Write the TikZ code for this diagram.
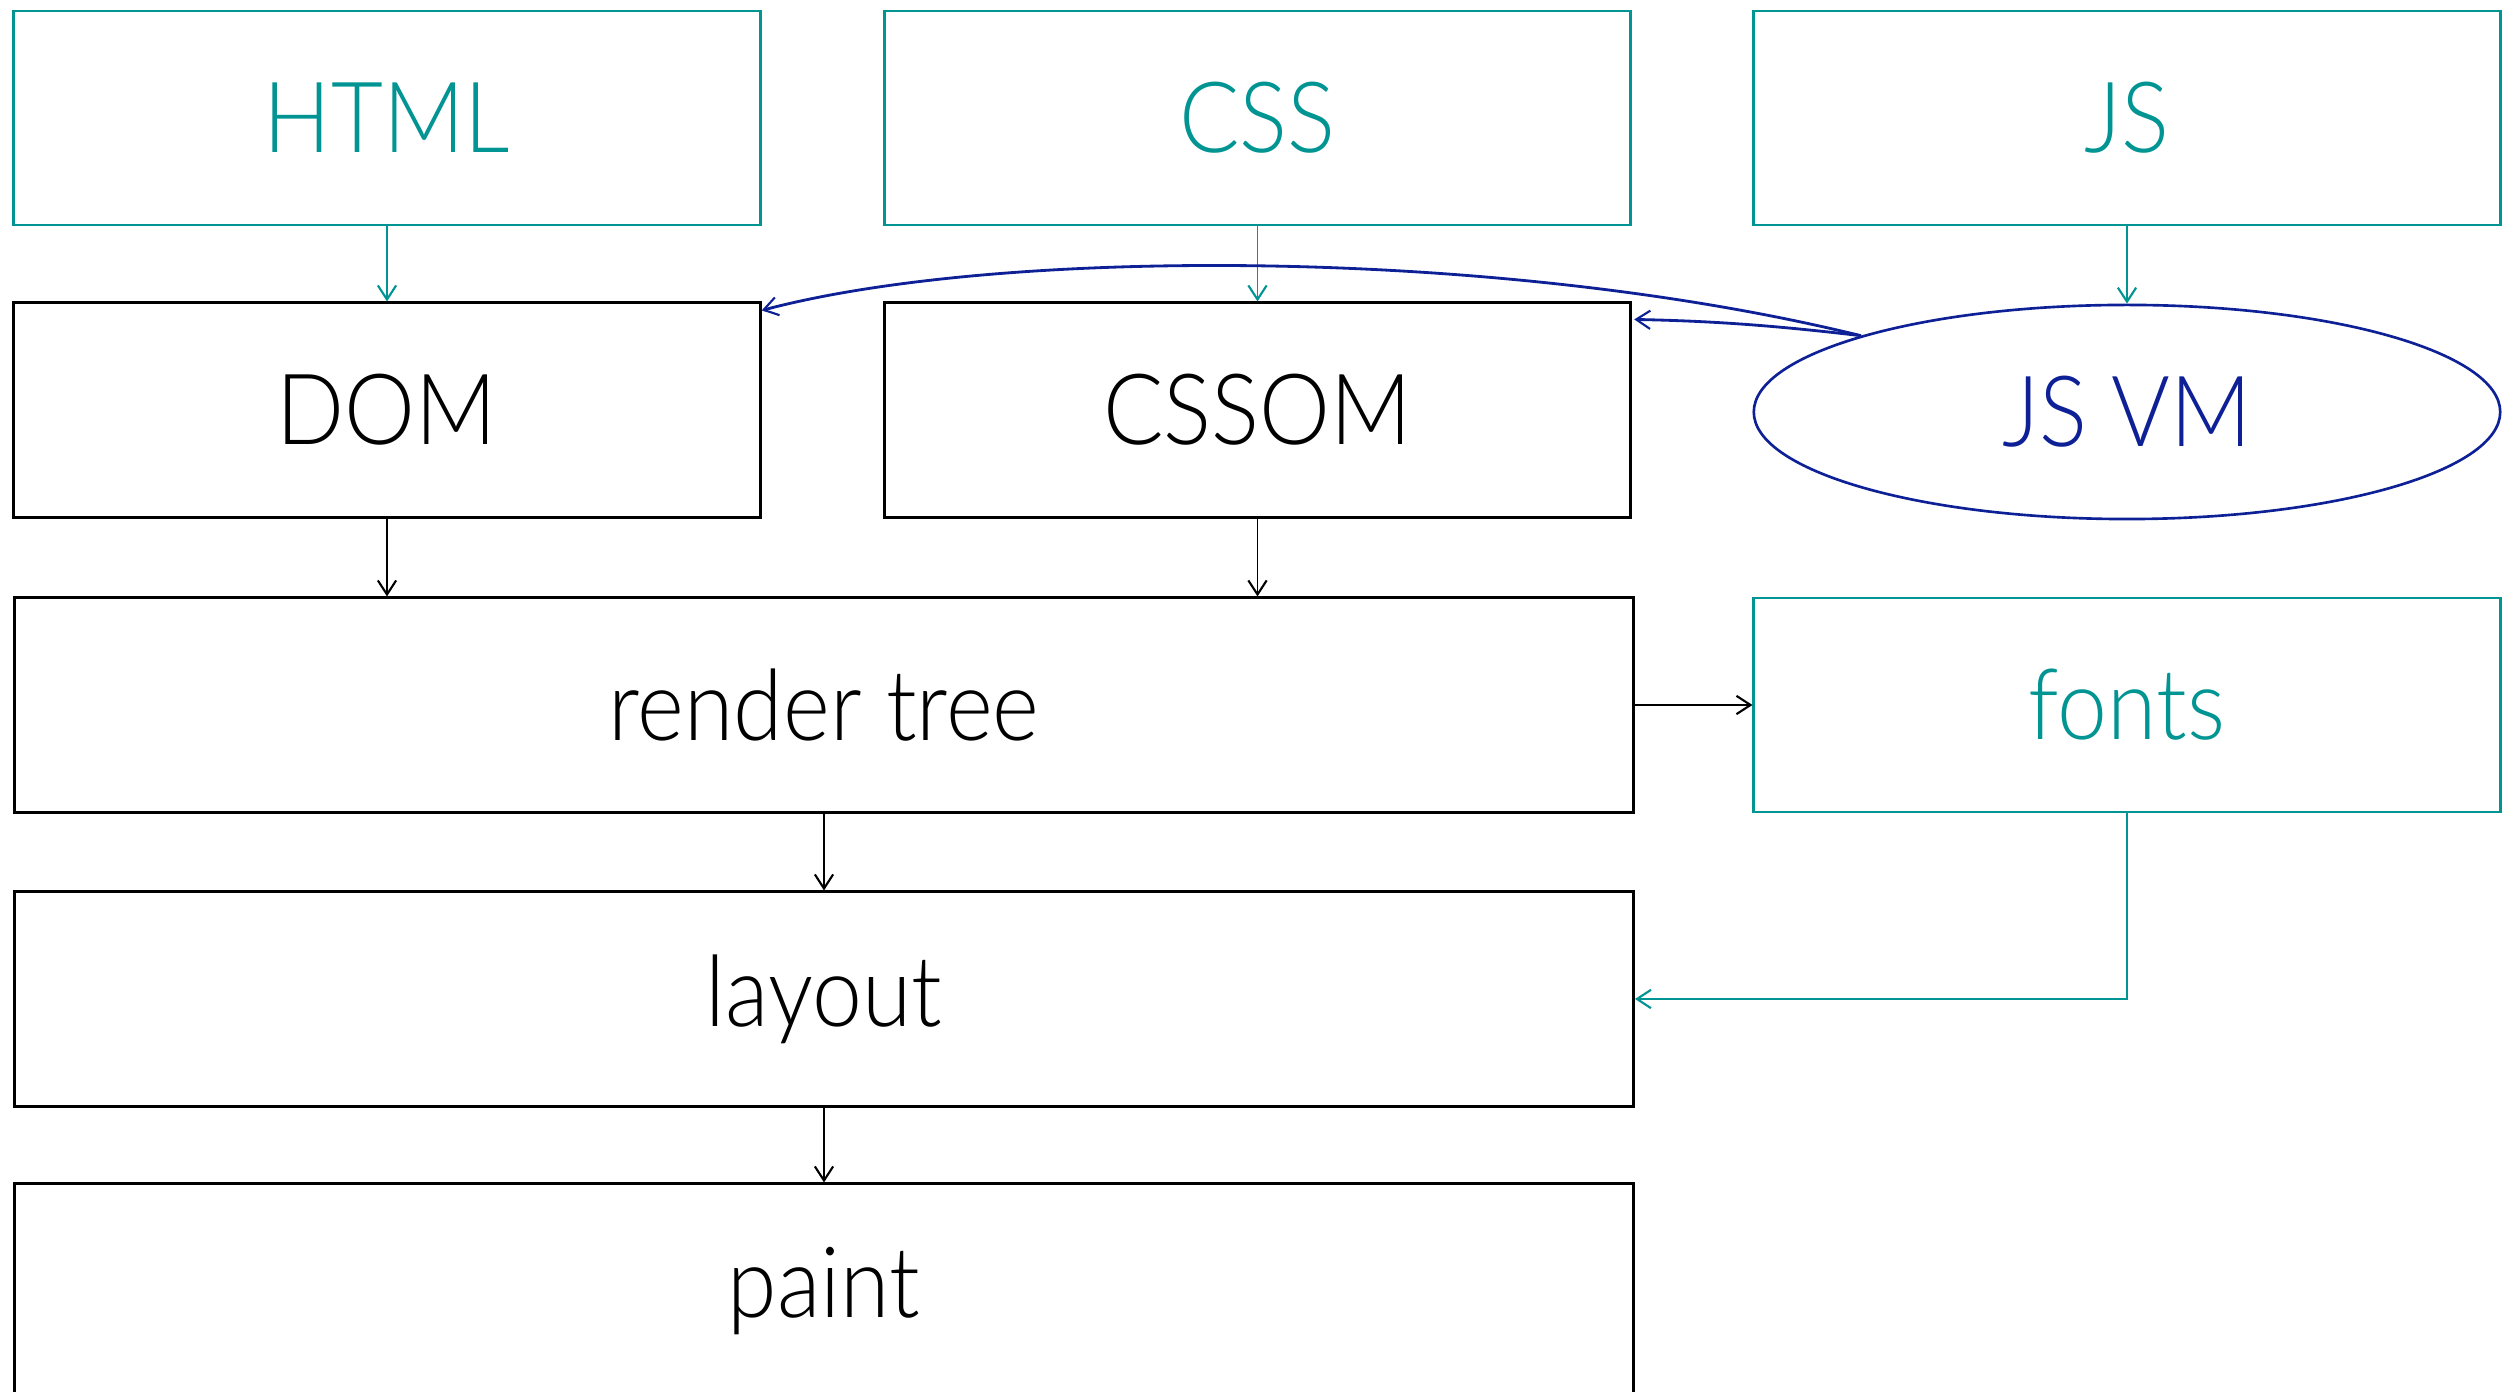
\documentclass[tikz,border=0pt]{standalone}
\usepackage{fontspec}
\setmainfont{Lato Light}[FakeStretch=0.91]
\usetikzlibrary{arrows.meta,shapes.geometric,calc}
\definecolor{srcteal}{RGB}{0,148,146}
\definecolor{vmblue}{RGB}{14,32,150}
\tikzset{
  tip/.tip={Straight Barb[length=4pt,width=5.2pt,line width=0.6pt]},
  stage/.style={draw=black,line width=0.85pt,minimum width=7.46cm,minimum height=2.14cm,
                inner sep=0pt,font=\fontsize{28}{30}\selectfont,text=black},
  widestage/.style={stage,minimum width=16.18cm},
  source/.style={stage,draw=srcteal,line width=0.75pt,text=srcteal},
  engine/.style={ellipse,draw=vmblue,line width=0.75pt,minimum width=7.46cm,minimum height=2.14cm,
                 inner sep=0pt,font=\fontsize{28}{30}\selectfont,text=vmblue},
  flow/.style={draw=black,line width=0.55pt,-tip},
  tealflow/.style={draw=srcteal,line width=0.55pt,-tip},
  blueflow/.style={draw=vmblue,line width=0.8pt,-tip},
}
\begin{document}
\begin{tikzpicture}[x=0.01cm,y=-0.01cm]
  \clip (0,0) rectangle (2520,1392);
  \fill[white] (0,0) rectangle (2520,1392);

  % sources
  \node[source] (html) at (387,118) {HTML};
  \node[source] (css) at (1257.5,118) {CSS};
  \node[source] (js) at (2127,118) {JS};

  % object models and the script engine
  \node[stage] (dom) at (387,410) {DOM};
  \node[stage] (cssom) at (1257.5,410) {CSSOM};
  \node[engine] (vm) at (2127,412) {JS VM};

  % pipeline
  \node[widestage] (render) at (824,705) {render tree};
  \node[source] (fonts) at (2127,705) {fonts};
  \node[widestage] (layout) at (824,999) {layout};
  \node[widestage] (paint) at (824,1291) {paint};

  % parsing
  \draw[tealflow] (html) -- (dom);
  \draw[tealflow] (css) -- (cssom);
  \draw[tealflow] (js) -- (vm);

  % script engine touching both object models
  \coordinate (vmout) at (vm.164);
  \coordinate (domin) at ($(dom.north east)+(0,9)$);
  \coordinate (cssomin) at ($(cssom.north east)+(2,18)$);
  \draw[blueflow] (vmout) .. controls (1500,247) and (1000,247) .. (domin);
  \draw[blueflow] (vmout) .. controls (1770,325) and (1710,321) .. (cssomin);

  % pipeline flow
  \draw[flow] (dom) -- (dom |- render.north);
  \draw[flow] (cssom) -- (cssom |- render.north);
  \draw[flow] (render) -- (layout);
  \draw[flow] (layout) -- (paint);
  \draw[flow] (render.east) -- (fonts.west);
  \draw[tealflow] (fonts.south) |- (layout.east);
\end{tikzpicture}
\end{document}
